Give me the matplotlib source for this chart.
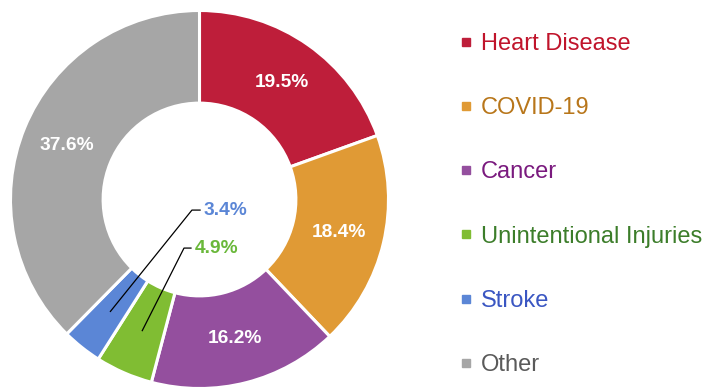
import numpy as np
import matplotlib.pyplot as plt
from matplotlib.lines import Line2D

# share of deaths by cause
causes = ["Heart Disease", "COVID-19", "Cancer", "Unintentional Injuries", "Stroke", "Other"]
shares = [19.5, 18.4, 16.2, 4.9, 3.4, 37.6]

wedge_colors = ["#BE1E3A", "#E09A35", "#944F9E", "#80BD33", "#5B86D6", "#A6A6A6"]
text_colors = ["#C0142B", "#B8761A", "#7A1A7E", "#3C7D2A", "#3A56C2", "#5A5A5A"]
small_label_colors = {"Unintentional Injuries": "#6AB83A", "Stroke": "#5B86D6"}

plt.rcParams["font.family"] = ["Liberation Sans", "DejaVu Sans"]

fig = plt.figure(figsize=(7.13, 3.9), dpi=100)
ax = fig.add_axes([10.5 / 713, 1.5 / 390, 378 / 713, 378 / 390])

wedges, _ = ax.pie(shares, colors=wedge_colors, startangle=90, counterclock=False,
                   radius=1.0, wedgeprops=dict(width=0.49, edgecolor="white", linewidth=2.2))
ax.set_xlim(-1, 1)
ax.set_ylim(-1, 1)
ax.set_aspect("equal")
ax.axis("off")

label_font = dict(fontsize=13.8, fontweight="bold")
r_lab = 0.757

# where the labels of the two thin slices sit inside the hole (elbow x, y, line end x)
callouts = {"Stroke": (-0.040, -0.056, 0.003), "Unintentional Injuries": (-0.082, -0.257, -0.045)}

for w, name, val in zip(wedges, causes, shares):
    mid = np.deg2rad((w.theta1 + w.theta2) / 2)
    px, py = r_lab * np.cos(mid), r_lab * np.sin(mid)
    txt = f"{val:.1f}%"
    if name in callouts:
        ex, ey, hx = callouts[name]
        ax.plot([px, ex, hx], [py, ey, ey], color="black", lw=0.9)
        ax.text(hx + 0.018, ey, txt, color=small_label_colors[name],
                ha="left", va="center", **label_font)
    else:
        ax.text(px, py, txt, color="white", ha="center", va="center", **label_font)

handles = [Line2D([], [], marker="s", linestyle="none", markersize=5.5,
                  markerfacecolor=c, markeredgecolor=c) for c in wedge_colors]
leg = fig.legend(handles, causes, loc="upper left", bbox_to_anchor=(447 / 713, 1 - 21 / 390),
                 frameon=False, fontsize=17, labelcolor=text_colors,
                 handlelength=0.6, handletextpad=0.35, labelspacing=1.79, borderpad=0)

fig.savefig("out.png", dpi=100)
